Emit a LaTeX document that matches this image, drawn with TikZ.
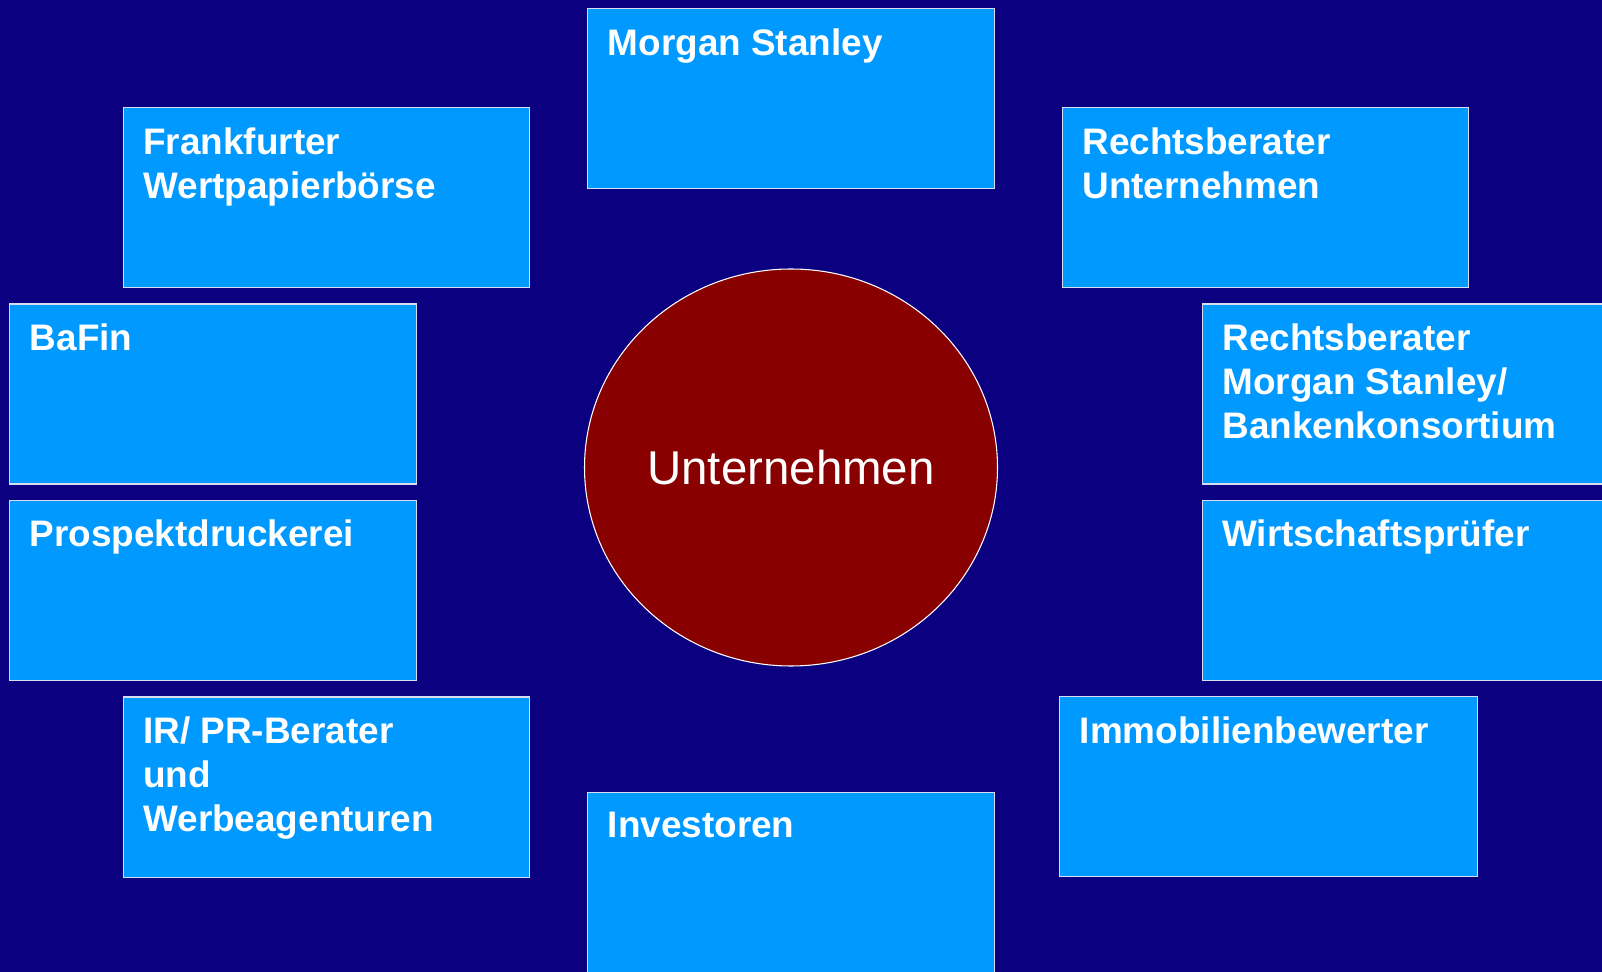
\documentclass[tikz,border=0pt]{standalone}
\usepackage{fontspec}
\setmainfont{Liberation Sans}
\usepackage{xcolor}
\usepackage{tikz}
\usetikzlibrary{positioning,shapes.geometric}
\definecolor{bgnavy}{HTML}{0A0080}
\definecolor{boxblue}{HTML}{0099FF}
\definecolor{boxline}{HTML}{D8DCF0}
\definecolor{coredred}{HTML}{880000}
\newcommand{\boxfont}{\bfseries\fontsize{21}{25}\selectfont}

\begin{document}
\begin{tikzpicture}[node distance=0.3cm]
\tikzset{party/.style={draw=boxline,line width=0.6pt,fill=boxblue,anchor=north west,minimum width=8.13cm,minimum height=3.6cm,inner sep=0pt},
  partytext/.style={anchor=north west,xshift=0.41cm,yshift=-0.4cm,inner sep=0pt,align=left,text=white,font=\boxfont},
  core/.style={ellipse,draw=white,line width=0.6pt,fill=coredred,minimum width=8.26cm,minimum height=7.94cm,inner sep=0pt,text=white,font=\fontsize{27}{32}\selectfont}}
% background
\path[use as bounding box,fill=bgnavy] (0,0) rectangle (32.04,-19.44);
% left column
\node[party,label={[partytext]north west:Frankfurter\\Wertpapierbörse}] (fwb) at (2.45,-2.14) {};
\node[party,label={[partytext]north west:BaFin}] (bafin) at (0.18,-6.07) {};
\node[party,below=of bafin.south west,anchor=north west,label={[partytext]north west:Prospektdruckerei}] (druck) {};
\node[party,label={[partytext]north west:IR/ PR-Berater\\und\\Werbeagenturen}] (irpr) at (2.45,-13.93) {};
% middle column
\node[party,label={[partytext]north west:Morgan Stanley}] (ms) at (11.74,-0.16) {};
\node[core] (firm) at (15.82,-9.35) {Unternehmen};
\node[party,label={[partytext]north west:Investoren}] (inv) at (11.74,-15.83) {};
% right column
\node[party,label={[partytext]north west:Rechtsberater\\Unternehmen}] (rbu) at (21.23,-2.14) {};
\node[party,label={[partytext]north west:Rechtsberater\\Morgan Stanley/\\Bankenkonsortium}] (rbms) at (24.03,-6.07) {};
\node[party,below=of rbms.south west,anchor=north west,label={[partytext]north west:Wirtschaftsprüfer}] (wp) {};
\node[party,minimum width=8.35cm,label={[partytext]north west:Immobilienbewerter}] (immo) at (21.18,-13.92) {};
\end{tikzpicture}
\end{document}
